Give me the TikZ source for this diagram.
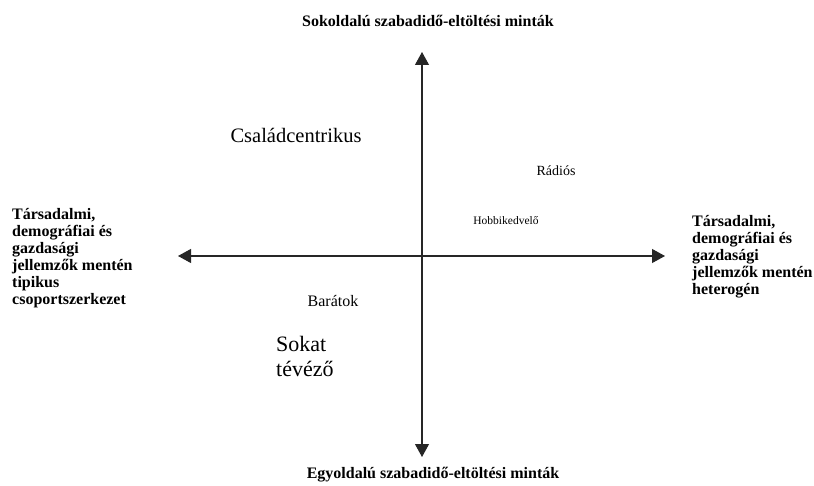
\documentclass[tikz,border=0pt]{standalone}
\usepackage{fontspec}
\setmainfont{Liberation Serif}
\usetikzlibrary{arrows.meta}

\tikzset{
  axis/.style={line width=1.1pt, draw=black!85,
    {Triangle[length=13pt,width=14pt]}-{Triangle[length=13pt,width=14pt]}},
  poletitle/.style={font=\bfseries\fontsize{16}{17}\selectfont, inner sep=0pt},
  sidelabel/.style={font=\bfseries\fontsize{16}{17}\selectfont, align=left, anchor=west, inner sep=0pt},
  group/.style={inner sep=0pt},
}

\begin{document}
\begin{tikzpicture}[x=1pt,y=-1pt]
  \useasboundingbox (0,0) rectangle (814,486);

  % axis end points
  \coordinate (N) at (422,52);
  \coordinate (S) at (422,457);
  \coordinate (W) at (178,256);
  \coordinate (E) at (665,256);

  \draw[axis] (W) -- (E);
  \draw[axis] (S) -- (N);

  % pole titles
  \node[poletitle] (top) at (428,21) {Sokoldalú szabadidő-eltöltési minták};
  \node[poletitle] (bottom) at (433,475) {Egyoldalú szabadidő-eltöltési minták};

  \node[sidelabel] (left) at (12,258) {Társadalmi,\\demográfiai és\\gazdasági\\jellemzők mentén\\tipikus\\csoportszerkezet};
  \node[sidelabel] (right) at (692,257) {Társadalmi,\\demográfiai és\\gazdasági\\jellemzők mentén\\heterogén};

  % groups placed in the plane
  \node[group, font=\fontsize{20.5}{24}\selectfont] (csalad) at (296,135) {Családcentrikus};
  \node[group, font=\fontsize{14}{16}\selectfont] (radios) at (556,171) {Rádiós};
  \node[group, font=\fontsize{11.5}{13}\selectfont] (hobbi) at (506,221) {Hobbikedvelő};
  \node[group, font=\fontsize{16}{18}\selectfont] (baratok) at (333,301) {Barátok};
  \node[group, font=\fontsize{22}{25}\selectfont, align=left, anchor=west] (tv) at (276,356) {Sokat\\tévéző};
\end{tikzpicture}
\end{document}
